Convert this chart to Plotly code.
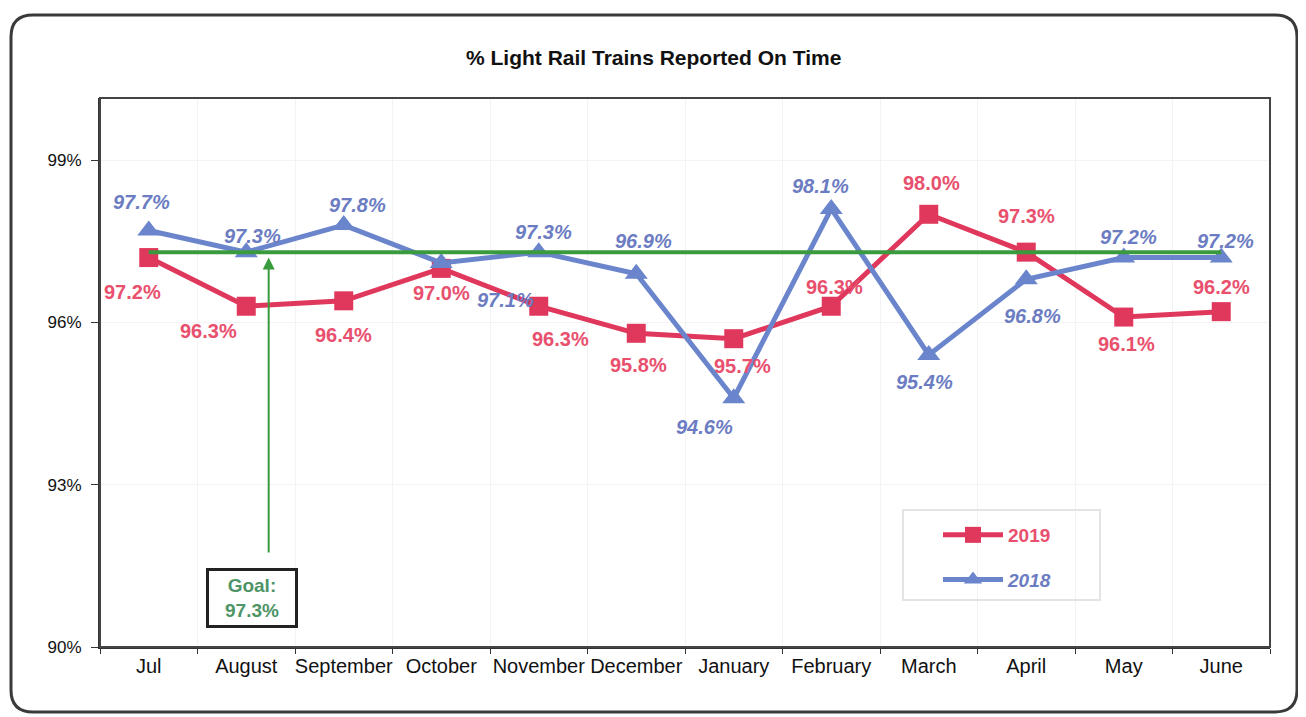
import plotly.graph_objects as go

months = ["Jul", "August", "September", "October", "November", "December",
          "January", "February", "March", "April", "May", "June"]
y2019 = [97.2, 96.3, 96.4, 97.0, 96.3, 95.8, 95.7, 96.3, 98.0, 97.3, 96.1, 96.2]
y2018 = [97.7, 97.3, 97.8, 97.1, 97.3, 96.9, 94.6, 98.1, 95.4, 96.8, 97.2, 97.2]
goal = 97.3
ytick_vals = [90, 93, 96, 99]
ytick_text = ["90%", "93%", "96%", "99%"]

# label offsets in pixels (dx, dy) - styling only
off2019 = [(-16, 34), (-38, 25), (0, 34), (0, 25), (22, 33), (2, 32),
           (9, 27), (3, -19), (3, -31), (0, -36), (3, 27), (0, -25)]
off2018 = [(-7, -29), (6, -16), (14, -20), (64, 37), (5, -20), (7, -33),
           (-29, 29), (-11, -23), (-4, 27), (6, 37), (5, -21), (4, -17)]

RED = "#E0385C"
RED_T = "#E8506E"
BLUE = "#6A85CC"
BLUE_T = "#6B7CC2"
GREEN = "#3A9A3E"
GREEN_T = "#4E9466"
FONT = "Arial, Liberation Sans, sans-serif"

# page body has an 8px margin; work in page pixels and convert
OFF = 8
W, H = 1306 - OFF, 717 - OFF
PL, PT, PR, PB = 100, 98, 1270, 647          # plot area in page pixels
L, T = PL - OFF, PT - OFF
R, B = W - (PR - OFF), H - (PB - OFF)
pw, ph = PR - PL, PB - PT


def px(x):
    return (x - PL) / pw


def py(y):
    return (PB - y) / ph


fig = go.Figure()
fig.add_trace(go.Scatter(
    x=months, y=y2019, mode="lines+markers",
    name="<b><span style='color:%s'>2019</span></b>" % RED_T,
    line=dict(color=RED, width=5),
    marker=dict(symbol="square", size=19, color=RED),
    legendgroup="a", legendrank=1))
fig.add_trace(go.Scatter(
    x=months, y=y2018, mode="lines+markers",
    name="<b><i><span style='color:%s'>2018</span></i></b>" % BLUE_T,
    line=dict(color=BLUE, width=5),
    marker=dict(symbol="triangle-up", size=20, color=BLUE),
    legendgroup="b", legendrank=2))
fig.add_trace(go.Scatter(
    x=[months[0], months[-1]], y=[goal, goal], mode="lines",
    line=dict(color=GREEN, width=4), showlegend=False, hoverinfo="skip"))

anns = []
for i, (m, v) in enumerate(zip(months, y2019)):
    dx, dy = off2019[i]
    anns.append(dict(x=m, y=v, text="<b>%.1f%%</b>" % v, showarrow=False,
                     xshift=dx, yshift=-dy,
                     font=dict(family=FONT, size=20, color=RED_T)))
for i, (m, v) in enumerate(zip(months, y2018)):
    dx, dy = off2018[i]
    anns.append(dict(x=m, y=v, text="<b><i>%.1f%%</i></b>" % v, showarrow=False,
                     xshift=dx, yshift=-dy,
                     font=dict(family=FONT, size=20, color=BLUE_T)))

# goal arrow
anns.append(dict(x=1.23, y=goal - 0.1, ax=1.23, ay=91.72, xref="x", yref="y",
                 axref="x", ayref="y", text="", showarrow=True,
                 arrowhead=2, arrowsize=1.2, arrowwidth=2, arrowcolor=GREEN))
anns.append(dict(x=px(252), y=py(598), xref="paper", yref="paper",
                 xanchor="center", yanchor="middle",
                 text="<b>Goal:<br>%.1f%%</b>" % goal, showarrow=False,
                 font=dict(family=FONT, size=19, color=GREEN_T),
                 bordercolor="#222222", borderwidth=3, borderpad=4,
                 bgcolor="white", width=78))

# title
anns.append(dict(x=px(653), y=py(58), xref="paper", yref="paper",
                 xanchor="center", yanchor="middle",
                 text="<b>% Light Rail Trains Reported On Time</b>",
                 showarrow=False, font=dict(family=FONT, size=21, color="#111111")))

# outer rounded frame
x0, y0, x1, y1, r = 11, 15, 1297, 712, 22
path = ("M %f,%f L %f,%f Q %f,%f %f,%f L %f,%f Q %f,%f %f,%f "
        "L %f,%f Q %f,%f %f,%f L %f,%f Q %f,%f %f,%f Z") % (
    px(x0 + r), py(y0), px(x1 - r), py(y0), px(x1), py(y0), px(x1), py(y0 + r),
    px(x1), py(y1 - r), px(x1), py(y1), px(x1 - r), py(y1),
    px(x0 + r), py(y1), px(x0), py(y1), px(x0), py(y1 - r),
    px(x0), py(y0 + r), px(x0), py(y0), px(x0 + r), py(y0))
shapes = [
    dict(type="path", path=path, xref="paper", yref="paper",
         line=dict(color="#3a3a3a", width=3)),
    dict(type="rect", x0=0, x1=1, y0=0, y1=1, xref="paper", yref="paper",
         line=dict(color="#444444", width=2)),
    dict(type="rect", x0=px(903), x1=px(1100), y0=py(510), y1=py(600),
         xref="paper", yref="paper", line=dict(color="#e4e4e4", width=2)),
]

fig.update_layout(
    width=W, height=H,
    margin=dict(l=L, r=R, t=T, b=B, autoexpand=False),
    paper_bgcolor="white", plot_bgcolor="white",
    font=dict(family=FONT, size=16, color="#111111"),
    showlegend=True,
    legend=dict(x=px(938), y=py(516), xanchor="left", yanchor="top",
                bgcolor="rgba(0,0,0,0)", tracegroupgap=17,
                traceorder="grouped", itemwidth=60,
                font=dict(family=FONT, size=19)),
    annotations=anns, shapes=shapes,
    xaxis=dict(type="category", range=[-0.5, 11.5], showline=True,
               linecolor="#333333", linewidth=2, ticks="outside",
               tickcolor="#333333", ticklen=5, tickson="boundaries",
               tickangle=0, automargin=False,
               showgrid=True, gridcolor="#f3f3f3",
               tickfont=dict(family=FONT, size=20, color="#111111")),
    yaxis=dict(range=[90, 100.15], tickvals=ytick_vals, ticktext=ytick_text,
               showline=True, linecolor="#333333", linewidth=2,
               ticks="outside", tickcolor="#333333", ticklen=7,
               automargin=False, ticklabelstandoff=6,
               showgrid=True, gridcolor="#f3f3f3", zeroline=False,
               tickfont=dict(family=FONT, size=17, color="#111111")),
)

fig.write_html("out.html")
